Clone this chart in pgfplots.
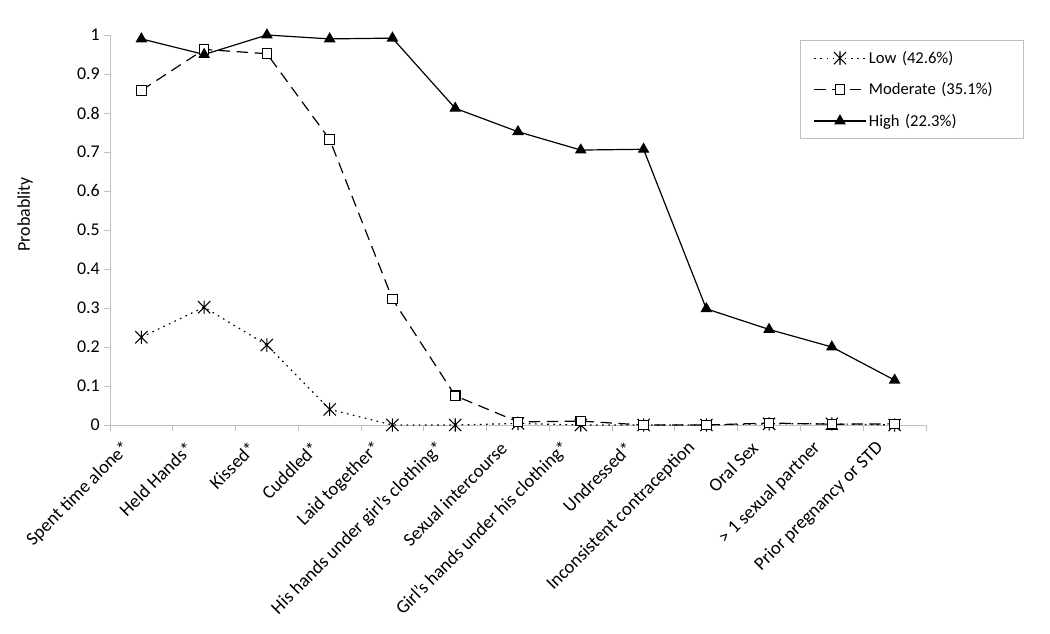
\documentclass[border=0pt]{standalone}
\usepackage{pgfplots}
\pgfplotsset{compat=1.18}
\usepackage{fontspec}
\setmainfont{Carlito}
\pgfdeclareplotmark{xstar}{%
  \pgfpathmoveto{\pgfqpoint{-\pgfplotmarksize}{-\pgfplotmarksize}}%
  \pgfpathlineto{\pgfqpoint{\pgfplotmarksize}{\pgfplotmarksize}}%
  \pgfpathmoveto{\pgfqpoint{-\pgfplotmarksize}{\pgfplotmarksize}}%
  \pgfpathlineto{\pgfqpoint{\pgfplotmarksize}{-\pgfplotmarksize}}%
  \pgfpathmoveto{\pgfqpoint{0pt}{-1.1\pgfplotmarksize}}%
  \pgfpathlineto{\pgfqpoint{0pt}{1.1\pgfplotmarksize}}%
  \pgfusepathqstroke}
\begin{document}
\begin{tikzpicture}
\useasboundingbox (-82.5bp,-156.75bp) rectangle (705bp,318.75bp);
\begin{axis}[
  scale only axis, width=612bp, height=292.5bp,
  at={(0,0)}, anchor=south west,
  xmin=-0.5, xmax=12.5, ymin=0, ymax=1,
  axis lines*=left,
  axis line style={gray!50, line width=0.7pt},
  tick align=outside,
  xtick={0,1,2,3,4,5,6,7,8,9,10,11,12},
  xticklabels={Spent time alone*, Held Hands*, Kissed*, Cuddled*, Laid together*, His hands under girl's clothing*, Sexual intercourse, Girl's hands under his clothing*, Undressed*, Inconsistent contraception, Oral Sex, > 1 sexual partner, Prior pregnancy or STD},
  major x tick style={draw=none},
  minor xtick={-0.5,0.5,1.5,2.5,3.5,4.5,5.5,6.5,7.5,8.5,9.5,10.5,11.5,12.5},
  minor x tick style={gray!50, line width=0.7pt},
  minor tick length=4.5bp,
  ytick={0,0.1,0.2,0.3,0.4,0.5,0.6,0.7,0.8,0.9,1},
  yticklabels={0,0.1,0.2,0.3,0.4,0.5,0.6,0.7,0.8,0.9,1},
  major y tick style={gray!50, line width=0.7pt},
  major tick length=4.5bp,
  xticklabel style={rotate=45, anchor=east, font=\fontsize{14}{16}\selectfont, inner xsep=15pt, inner ysep=2pt},
  yticklabel style={font=\fontsize{13.5}{15}\selectfont, inner sep=3pt},
  ylabel={Probablity},
  ylabel style={at={(axis description cs:-0.104,0.54)}, anchor=center, font=\fontsize{13.5}{15}\selectfont},
  legend cell align=left,
  legend style={at={(axis description cs:0.8456,0.987)}, anchor=north west, draw=gray!50, line width=0.6pt,
    font=\fontsize{12.5}{14}\selectfont, inner xsep=10pt, inner ysep=6pt, row sep=9pt,
    nodes={text width=104bp, align=left}},
  legend image code/.code={\draw[mark repeat=2,mark phase=2] plot coordinates {(0cm,0cm) (0.68cm,0cm) (1.36cm,0cm)};},
  clip=false,
]
\addplot[black, line width=0.9pt, dash pattern=on 1.2pt off 3.4pt, mark=xstar, mark size=4.6pt, mark options={solid, line width=0.8pt}]
 coordinates {(0,0.225) (1,0.302) (2,0.205) (3,0.040) (4,0.0) (5,0.0) (6,0.004) (7,0.0) (8,0.0) (9,0.0) (10,0.003) (11,0.003) (12,0.0)};
\addlegendentry{Low (42.6\%)}
\addplot[black, line width=0.9pt, dash pattern=on 8.5pt off 5pt, mark=square*, mark size=3.6pt, mark options={solid, fill=white, line width=0.8pt}]
 coordinates {(0,0.858) (1,0.963) (2,0.952) (3,0.732) (4,0.323) (5,0.075) (6,0.008) (7,0.010) (8,0.0) (9,0.0) (10,0.005) (11,0.002) (12,0.003)};
\addlegendentry{Moderate (35.1\%)}
\addplot[black, line width=0.9pt, mark=triangle*, mark size=4.2pt, mark options={solid}]
 coordinates {(0,0.990) (1,0.950) (2,1.0) (3,0.990) (4,0.992) (5,0.812) (6,0.752) (7,0.705) (8,0.707) (9,0.298) (10,0.245) (11,0.200) (12,0.115)};
\addlegendentry{High (22.3\%)}
\end{axis}
\end{tikzpicture}
\end{document}
